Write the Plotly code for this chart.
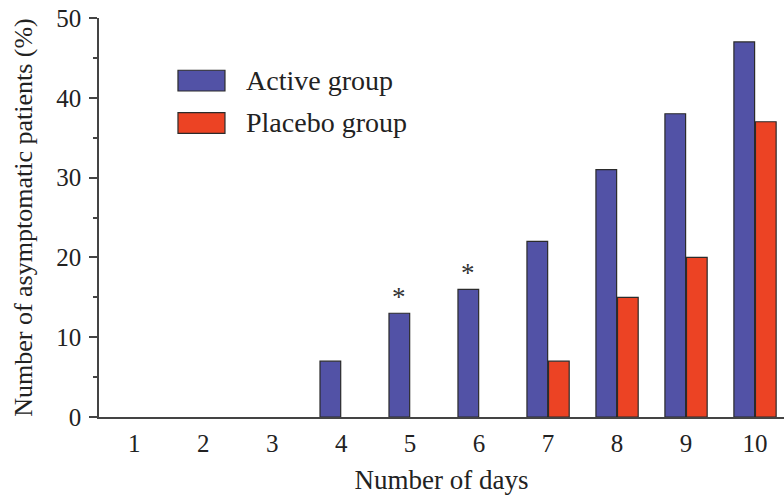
import plotly.graph_objects as go

days = [1, 2, 3, 4, 5, 6, 7, 8, 9, 10]
active = [0, 0, 0, 7, 13, 16, 22, 31, 38, 47]
placebo = [0, 0, 0, 0, 0, 0, 7, 15, 20, 37]
series_names = ["Active group", "Placebo group"]
significant_days = [5, 6]
y_ticks = [0, 10, 20, 30, 40, 50]

BLUE = "#5252a6"
RED = "#ec4324"
EDGE = "#2b2b2b"
AXIS = "#444444"
FONT = "Liberation Serif"


def edge_widths(vals):
    return [1.2 if v > 0 else 0 for v in vals]


fig = go.Figure()
fig.add_trace(go.Bar(x=days, y=active, name=series_names[0],
                     marker=dict(color=BLUE, line=dict(color=EDGE, width=edge_widths(active))),
                     showlegend=False))
fig.add_trace(go.Bar(x=days, y=placebo, name=series_names[1],
                     marker=dict(color=RED, line=dict(color=EDGE, width=edge_widths(placebo))),
                     showlegend=False))

# significance asterisks above active bars
for d in significant_days:
    v = active[days.index(d)]
    fig.add_annotation(x=d, y=v, xref="x", yref="y", text="*", showarrow=False,
                       xshift=-11, yshift=-1, yanchor="bottom",
                       font=dict(family=FONT, size=27, color="#333"))

# manual legend with large swatches
legend_rows = [(0.843, BLUE), (0.737, RED)]
for (yc, col), name in zip(legend_rows, series_names):
    fig.add_shape(type="rect", xref="paper", yref="paper",
                  x0=0.1153, x1=0.1839, y0=yc - 0.026, y1=yc + 0.026,
                  fillcolor=col, line=dict(color=EDGE, width=1.2))
    fig.add_annotation(x=0.212, y=yc, xref="paper", yref="paper", text=name,
                       showarrow=False, xanchor="left", yanchor="middle",
                       font=dict(family=FONT, size=28, color="#222"))

fig.update_layout(
    width=784, height=495,
    margin=dict(l=99, r=0, t=18, b=78),
    plot_bgcolor="white", paper_bgcolor="white",
    barmode="group", bargap=0.375, bargroupgap=0.04,
    font=dict(family=FONT, size=25, color="#222"),
)
fig.update_xaxes(
    range=[0.49, 10.42], tickvals=days, ticktext=[str(d) for d in days],
    showline=True, linecolor=AXIS, linewidth=1.5, ticks="", showgrid=False,
    zeroline=False, tickfont=dict(size=25), automargin=False, ticklabelstandoff=3,
    ticklabeloverflow="allow",
    title=dict(text="Number of days", font=dict(size=27), standoff=20),
)
fig.update_yaxes(
    range=[0, 50], tickvals=y_ticks, showline=True, linecolor=AXIS, linewidth=1.5,
    ticks="outside", ticklen=8, tickwidth=1.5, tickcolor=AXIS,
    minor=dict(dtick=5, ticks="outside", ticklen=4, tickwidth=1.5, tickcolor=AXIS),
    showgrid=False, zeroline=False, tickfont=dict(size=25), automargin=False,
    ticklabelstandoff=3, ticklabeloverflow="allow",
    title=dict(text="Number of asymptomatic patients (%)", font=dict(size=26), standoff=16),
)

# remove the browser's default 8px body margin so the figure fills the window exactly
fig.write_html("out.html", config={"displayModeBar": False},
               post_script="document.body.style.margin='0';document.body.style.overflow='hidden';")
